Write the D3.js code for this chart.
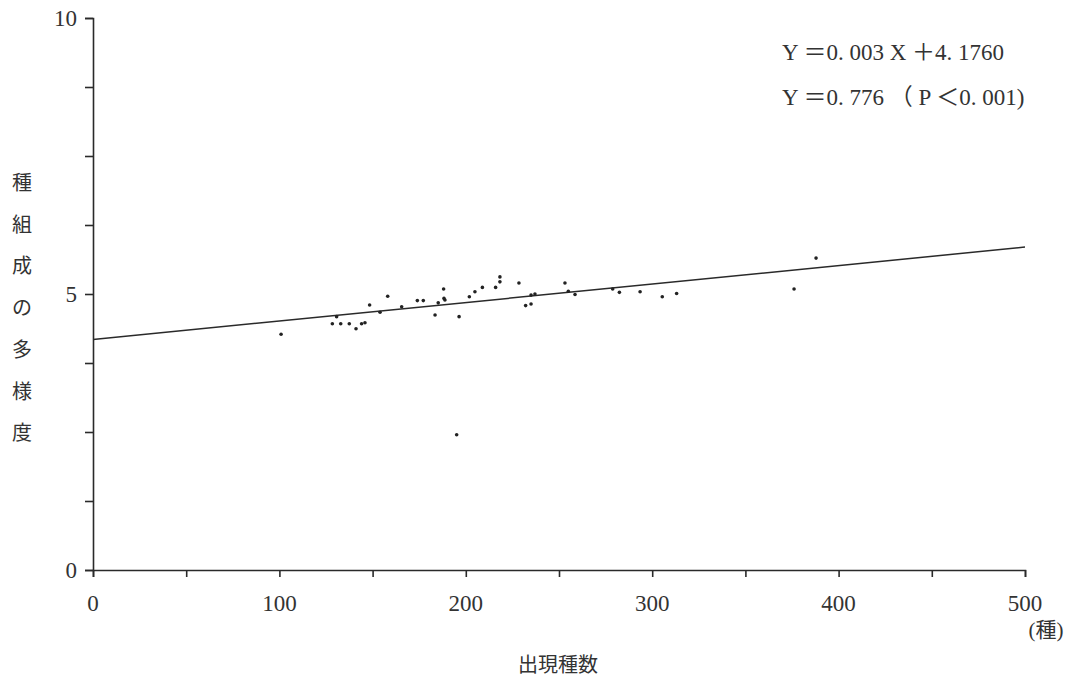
<!DOCTYPE html>
<html><head><meta charset="utf-8">
<script src="https://cdn.jsdelivr.net/npm/d3@7"></script>
<style>
body{margin:0;background:#fff;}
text{fill:#333;}
</style></head>
<body><svg id="c" width="1071" height="688"></svg>
<script>
// data: 出現種数 (x) vs 種組成の多様度 (y)
const speciesCount = [100.9,128.4,130.7,132.9,137.5,141.1,144.1,145.9,148.4,154,158.1,165.6,174,177.2,183.5,185.2,188.1,188.3,188.8,195.1,196.4,201.9,204.9,208.9,216,218.3,218.3,228.5,232.1,235,235,237.1,253.2,255,258.6,278.8,282.4,293.5,305.4,313.1,376.1,387.9];
const diversity    = [4.27,4.46,4.59,4.46,4.46,4.37,4.46,4.48,4.80,4.67,4.96,4.77,4.88,4.88,4.62,4.84,5.09,4.92,4.89,2.45,4.59,4.95,5.04,5.12,5.12,5.31,5.22,5.20,4.79,4.82,4.98,5.00,5.20,5.05,4.99,5.09,5.03,5.04,4.95,5.01,5.09,5.65];
const regX = [0, 500];
const regY = [4.176, 5.85];
const xTicks = [0,50,100,150,200,250,300,350,400,450,500];
const xLabels = [0,100,200,300,400,500];
const yTicks = [0,1.25,2.5,3.75,5,6.25,7.5,8.75,10];
const yLabels = [0,5,10];
const yTitle = ["種","組","成","の","多","様","度"];
const eqLines = ["Y ＝0. 003 X ＋4. 1760", "Y ＝0. 776 （ P ＜0. 001)"];

const svg = d3.select("#c");
const x = d3.scaleLinear().domain([0,500]).range([93,1025]);
const y = d3.scaleLinear().domain([0,10]).range([570,18]);
const ink = "#2a2a2a";
const serif = "'Liberation Serif','DejaVu Serif','Noto Sans CJK JP',serif";

const xa = svg.append("g").attr("transform","translate(0,570)")
  .call(d3.axisBottom(x).tickValues(xTicks).tickSize(7).tickSizeOuter(7).tickFormat(""));
const ya = svg.append("g").attr("transform","translate(93,0)")
  .call(d3.axisLeft(y).tickValues(yTicks).tickSize(8).tickSizeOuter(8).tickFormat(""));
[xa,ya].forEach(a=>{a.selectAll("path,line").attr("stroke",ink).attr("stroke-width",1.6);});

svg.append("g").selectAll("text").data(xLabels).join("text")
  .attr("x",d=>x(d)).attr("y",611).attr("text-anchor","middle")
  .attr("font-family",serif).attr("font-size",23).text(d=>d);
svg.append("g").selectAll("text").data(yLabels).join("text")
  .attr("x",77).attr("y",d=>y(d)+8).attr("text-anchor","end")
  .attr("font-family",serif).attr("font-size",23).text(d=>d);

// regression line
svg.append("line").attr("x1",x(regX[0])).attr("y1",y(regY[0])).attr("x2",x(regX[1])).attr("y2",y(regY[1]))
  .attr("stroke",ink).attr("stroke-width",1.5);

// points
svg.append("g").selectAll("circle").data(speciesCount).join("circle")
  .attr("cx",d=>x(d)).attr("cy",(d,i)=>y(diversity[i])).attr("r",1.8).attr("fill","#222");

// y title
svg.append("g").selectAll("text").data(yTitle).join("text")
  .attr("x",22).attr("y",(d,i)=>190+i*41.7).attr("text-anchor","middle")
  .attr("font-family","'Noto Sans CJK JP',sans-serif").attr("font-size",20).text(d=>d);

// x title
svg.append("text").attr("x",558).attr("y",672).attr("text-anchor","middle")
  .attr("font-family","'Noto Sans CJK JP',sans-serif").attr("font-size",20).text("出現種数");
svg.append("text").attr("x",1046).attr("y",637).attr("text-anchor","middle")
  .attr("font-family",serif).attr("font-size",21).text("(種)");

// equation
svg.append("g").selectAll("text").data(eqLines).join("text")
  .attr("x",782).attr("y",(d,i)=>60+i*45)
  .attr("font-family",serif).attr("font-size",23).text(d=>d);
</script></body></html>
